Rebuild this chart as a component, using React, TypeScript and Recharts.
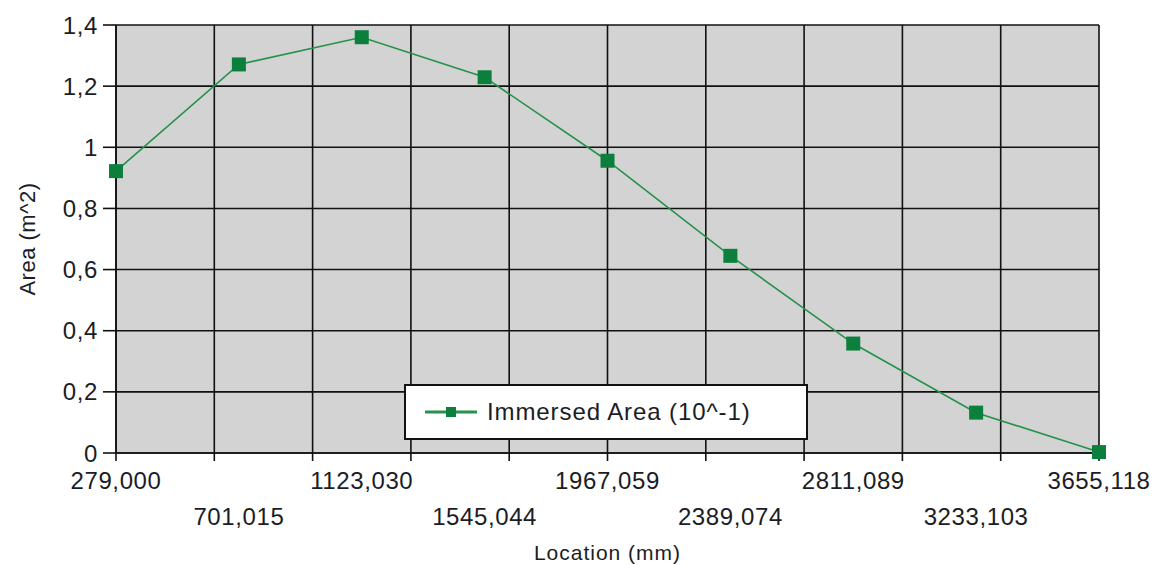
import React from 'react';
import { LineChart, Line, XAxis, YAxis, CartesianGrid, Legend } from 'recharts';

const locations = [279.0, 701.015, 1123.03, 1545.044, 1967.059, 2389.074, 2811.089, 3233.103, 3655.118];
const locationLabels = ['279,000', '701,015', '1123,030', '1545,044', '1967,059', '2389,074', '2811,089', '3233,103', '3655,118'];
const immersedArea = [0.922, 1.271, 1.36, 1.229, 0.956, 0.645, 0.358, 0.132, 0.003];
const yTicks = [0, 0.2, 0.4, 0.6, 0.8, 1, 1.2, 1.4];
const gridDivisions = 10;
const seriesName = 'Immersed Area (10^-1)';

const xMin = locations[0];
const xMax = locations[locations.length - 1];
const gridTicks = Array.from({ length: gridDivisions + 1 }, (_, i) => xMin + (i * (xMax - xMin)) / gridDivisions);

const data = locations.map((loc, i) => ({ loc, area: immersedArea[i] }));

const TEXT = '#1c1c24';
const FONT = '"Liberation Sans", Arial, sans-serif';
const MARKER = '#0b7f3b';
const LINE = '#24924b';

const SquareDot = (props: any) => {
  const { cx, cy, index } = props;
  if (cx == null || cy == null) return <g key={`d${index}`} />;
  return <rect key={`d${index}`} x={cx - 7} y={cy - 7} width={14} height={14} fill={MARKER} />;
};

const XLabelTick = (props: any) => {
  const { x, y, index } = props;
  const dy = index % 2 === 0 ? 28 : 64;
  return (
    <text x={x} y={y + dy} textAnchor="middle" fill={TEXT} fontSize={24} fontFamily={FONT} letterSpacing={0.6}>
      {locationLabels[index]}
    </text>
  );
};

const LegendBox = () => (
  <div
    style={{
      width: 404,
      height: 56,
      boxSizing: 'border-box',
      border: '2px solid #111',
      background: '#fff',
      display: 'flex',
      alignItems: 'center',
      fontFamily: FONT,
    }}
  >
    <svg width={81} height={20} style={{ display: 'block' }}>
      <line x1={19} y1={10} x2={71} y2={10} stroke={LINE} strokeWidth={3} />
      <rect x={40} y={5} width={10} height={10} fill={MARKER} />
    </svg>
    <span style={{ fontSize: 24, color: TEXT, whiteSpace: 'nowrap', letterSpacing: 0.9 }}>{seriesName}</span>
  </div>
);

const YLabel = (props: any) => {
  const { viewBox } = props;
  const cx = viewBox.x + 27;
  const cy = viewBox.y + viewBox.height / 2;
  return (
    <text
      x={cx}
      y={cy}
      transform={`rotate(-90 ${cx} ${cy})`}
      textAnchor="middle"
      dominantBaseline="central"
      fill={TEXT}
      fontSize={22}
      fontFamily={FONT}
      letterSpacing={0.5}
    >
      Area (m^2)
    </text>
  );
};

const XLabel = (props: any) => {
  const { viewBox } = props;
  const cx = viewBox.x + viewBox.width / 2;
  const cy = viewBox.y + 91;
  return (
    <text x={cx} y={cy} textAnchor="middle" dominantBaseline="central" fill={TEXT} fontSize={21} fontFamily={FONT} letterSpacing={1}>
      Location (mm)
    </text>
  );
};

export default function App() {
  return (
    <div style={{ position: 'absolute', left: 0, top: 0, width: 1154, height: 565, background: '#fff', fontFamily: FONT }}>
      <LineChart width={1154} height={565} data={data} margin={{ top: 25, right: 55, left: 0, bottom: 0 }}>
        <CartesianGrid fill="#d3d3d3" stroke="#111" strokeWidth={1.6} strokeOpacity={1} />
        <XAxis
          dataKey="loc"
          type="number"
          domain={[xMin, xMax]}
          ticks={gridTicks}
          interval={0}
          height={8}
          tickSize={8}
          tick={() => <g />}
          axisLine={{ stroke: '#111', strokeWidth: 1.6 }}
          tickLine={{ stroke: '#111', strokeWidth: 1.6 }}
        />
        <XAxis
          xAxisId="labels"
          dataKey="loc"
          type="number"
          domain={[xMin, xMax]}
          ticks={locations}
          interval={0}
          height={104}
          tickSize={0}
          tickMargin={0}
          axisLine={false}
          tickLine={false}
          tick={<XLabelTick />}
          label={<XLabel />}
        />
        <YAxis
          type="number"
          domain={[0, 1.4]}
          ticks={yTicks}
          interval={0}
          width={116}
          tickSize={13}
          tickMargin={5}
          tickFormatter={(v: number) => String(v).replace('.', ',')}
          tick={{ fill: TEXT, fontSize: 24, fontFamily: FONT, letterSpacing: 0.6 }}
          axisLine={{ stroke: '#111', strokeWidth: 1.6 }}
          tickLine={{ stroke: '#111', strokeWidth: 1.6 }}
          label={<YLabel />}
        />
        <Legend
          layout="horizontal"
          verticalAlign="middle"
          align="center"
          wrapperStyle={{ left: 404, top: 384, width: 404, height: 56 }}
          content={<LegendBox />}
        />
        <Line
          type="linear"
          dataKey="area"
          name={seriesName}
          stroke={LINE}
          strokeWidth={1.6}
          dot={<SquareDot />}
          activeDot={false}
          isAnimationActive={false}
        />
      </LineChart>
    </div>
  );
}
